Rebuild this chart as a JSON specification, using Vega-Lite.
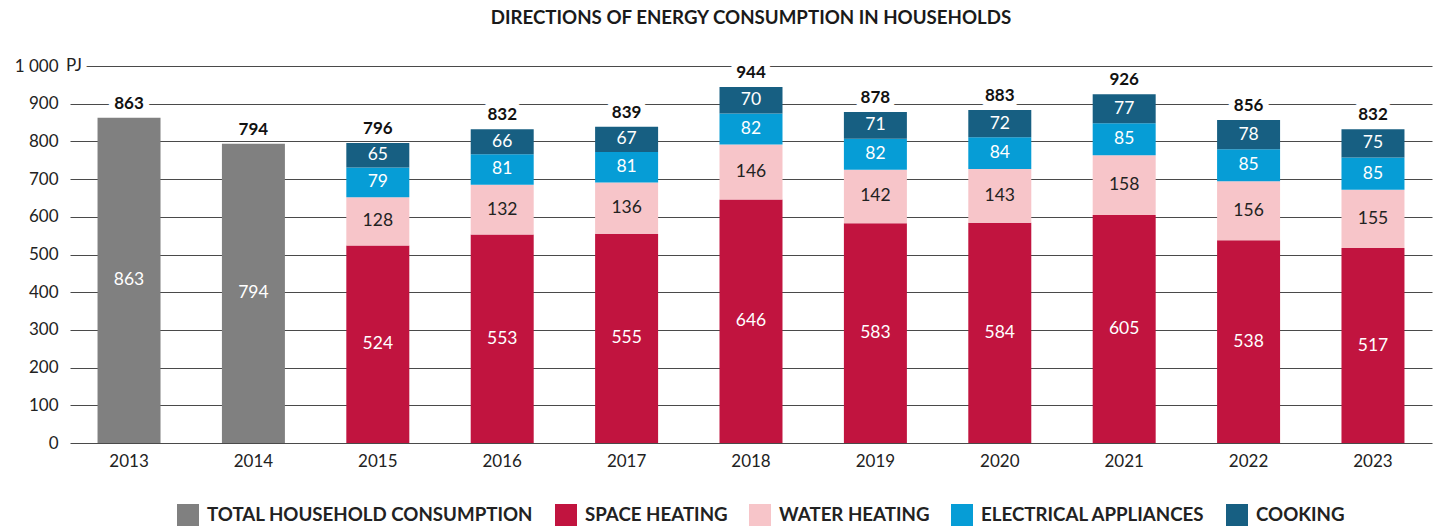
{
  "$schema": "https://vega.github.io/schema/vega-lite/v6.json",
  "width": 1362,
  "height": 377,
  "autosize": "none",
  "padding": {"left": 70, "top": 66, "right": 3, "bottom": 84},
  "background": "white",
  "config": {
    "font": "Lato",
    "view": {"stroke": null},
    "axisY": {"grid": true, "gridColor": "#4a4a4a", "gridWidth": 1, "domain": false, "ticks": false, "labelFont": "Lato", "labelFontSize": 17, "labelColor": "#222", "labelPadding": 12, "title": null},
    "axisX": {"grid": false, "domain": false, "ticks": false, "labelFont": "Lato", "labelFontSize": 17, "labelColor": "#222", "labelPadding": 10, "labelAngle": 0, "title": null}
  },
  "title": {"text": "DIRECTIONS OF ENERGY CONSUMPTION IN HOUSEHOLDS", "font": "Lato", "fontSize": 18.7, "fontWeight": "bold", "color": "#1a1a1a", "anchor": "middle", "frame": "group", "offset": 29},
  "datasets": {
    "seg": [
      {"year": "2013", "cat": "TOTAL HOUSEHOLD CONSUMPTION", "value": 863, "k": 0},
      {"year": "2014", "cat": "TOTAL HOUSEHOLD CONSUMPTION", "value": 794, "k": 0},
      {"year": "2015", "cat": "SPACE HEATING", "value": 524, "k": 1},
      {"year": "2015", "cat": "WATER HEATING", "value": 128, "k": 2},
      {"year": "2015", "cat": "ELECTRICAL APPLIANCES", "value": 79, "k": 3},
      {"year": "2015", "cat": "COOKING", "value": 65, "k": 4},
      {"year": "2016", "cat": "SPACE HEATING", "value": 553, "k": 1},
      {"year": "2016", "cat": "WATER HEATING", "value": 132, "k": 2},
      {"year": "2016", "cat": "ELECTRICAL APPLIANCES", "value": 81, "k": 3},
      {"year": "2016", "cat": "COOKING", "value": 66, "k": 4},
      {"year": "2017", "cat": "SPACE HEATING", "value": 555, "k": 1},
      {"year": "2017", "cat": "WATER HEATING", "value": 136, "k": 2},
      {"year": "2017", "cat": "ELECTRICAL APPLIANCES", "value": 81, "k": 3},
      {"year": "2017", "cat": "COOKING", "value": 67, "k": 4},
      {"year": "2018", "cat": "SPACE HEATING", "value": 646, "k": 1},
      {"year": "2018", "cat": "WATER HEATING", "value": 146, "k": 2},
      {"year": "2018", "cat": "ELECTRICAL APPLIANCES", "value": 82, "k": 3},
      {"year": "2018", "cat": "COOKING", "value": 70, "k": 4},
      {"year": "2019", "cat": "SPACE HEATING", "value": 583, "k": 1},
      {"year": "2019", "cat": "WATER HEATING", "value": 142, "k": 2},
      {"year": "2019", "cat": "ELECTRICAL APPLIANCES", "value": 82, "k": 3},
      {"year": "2019", "cat": "COOKING", "value": 71, "k": 4},
      {"year": "2020", "cat": "SPACE HEATING", "value": 584, "k": 1},
      {"year": "2020", "cat": "WATER HEATING", "value": 143, "k": 2},
      {"year": "2020", "cat": "ELECTRICAL APPLIANCES", "value": 84, "k": 3},
      {"year": "2020", "cat": "COOKING", "value": 72, "k": 4},
      {"year": "2021", "cat": "SPACE HEATING", "value": 605, "k": 1},
      {"year": "2021", "cat": "WATER HEATING", "value": 158, "k": 2},
      {"year": "2021", "cat": "ELECTRICAL APPLIANCES", "value": 85, "k": 3},
      {"year": "2021", "cat": "COOKING", "value": 77, "k": 4},
      {"year": "2022", "cat": "SPACE HEATING", "value": 538, "k": 1},
      {"year": "2022", "cat": "WATER HEATING", "value": 156, "k": 2},
      {"year": "2022", "cat": "ELECTRICAL APPLIANCES", "value": 85, "k": 3},
      {"year": "2022", "cat": "COOKING", "value": 78, "k": 4},
      {"year": "2023", "cat": "SPACE HEATING", "value": 517, "k": 1},
      {"year": "2023", "cat": "WATER HEATING", "value": 155, "k": 2},
      {"year": "2023", "cat": "ELECTRICAL APPLIANCES", "value": 85, "k": 3},
      {"year": "2023", "cat": "COOKING", "value": 75, "k": 4}
    ],
    "tot": [
      {"year": "2013", "total": 863},
      {"year": "2014", "total": 794},
      {"year": "2015", "total": 796},
      {"year": "2016", "total": 832},
      {"year": "2017", "total": 839},
      {"year": "2018", "total": 944},
      {"year": "2019", "total": 878},
      {"year": "2020", "total": 883},
      {"year": "2021", "total": 926},
      {"year": "2022", "total": 856},
      {"year": "2023", "total": 832}
    ],
    "unit": [{"year": "2013", "v": 1000, "label": "PJ"}]
  },
  "encoding": {
    "x": {"field": "year", "type": "ordinal", "scale": {"paddingInner": 0.4936, "paddingOuter": 0.2213}}
  },
  "layer": [
    {
      "data": {"name": "tot"},
      "mark": {"type": "text", "fontSize": 17, "fontWeight": "bold", "baseline": "bottom", "dy": -5, "fill": "white", "stroke": "white", "strokeWidth": 12, "strokeJoin": "round"},
      "encoding": {
        "y": {"field": "total", "type": "quantitative", "scale": {"domain": [0, 1000], "nice": false}, "axis": {"values": [0, 100, 200, 300, 400, 500, 600, 700, 800, 900, 1000], "format": "d", "labelExpr": "datum.value == 1000 ? '1 000' : datum.label"}},
        "text": {"field": "total", "type": "quantitative"}
      }
    },
    {
      "data": {"name": "unit"},
      "mark": {"type": "text", "fontSize": 17, "align": "left", "baseline": "middle", "dx": -63, "fill": "white", "stroke": "white", "strokeWidth": 12, "strokeJoin": "round"},
      "encoding": {
        "y": {"field": "v", "type": "quantitative", "axis": {"values": [0, 100, 200, 300, 400, 500, 600, 700, 800, 900, 1000], "format": "d", "labelExpr": "datum.value == 1000 ? '1 000' : datum.label"}},
        "text": {"field": "label", "type": "nominal"}
      }
    },
    {
      "data": {"name": "seg"},
      "mark": {"type": "bar"},
      "encoding": {
        "y": {"field": "value", "type": "quantitative", "stack": "zero", "axis": {"values": [0, 100, 200, 300, 400, 500, 600, 700, 800, 900, 1000], "format": "d", "labelExpr": "datum.value == 1000 ? '1 000' : datum.label"}},
        "color": {
          "field": "cat", "type": "nominal",
          "scale": {"domain": ["TOTAL HOUSEHOLD CONSUMPTION", "SPACE HEATING", "WATER HEATING", "ELECTRICAL APPLIANCES", "COOKING"], "range": ["#808080", "#C1143F", "#F7C5C9", "#069DD6", "#175F82"]},
          "legend": {"orient": "none", "legendX": 107, "legendY": 438, "direction": "horizontal", "title": null, "symbolType": "square", "symbolSize": 484, "symbolStrokeWidth": 0, "symbolOpacity": 1, "labelFont": "Lato", "labelFontSize": 18.7, "labelFontWeight": "bold", "labelColor": "#222", "columnPadding": 21, "labelOffset": 8, "labelLimit": 0}
        },
        "order": {"field": "k", "type": "quantitative"}
      }
    },
    {
      "data": {"name": "seg"},
      "transform": [
        {"window": [{"op": "sum", "field": "value", "as": "cum"}], "groupby": ["year"], "sort": [{"field": "k", "order": "ascending"}], "frame": [null, 0]},
        {"calculate": "datum.cum - datum.value / 2", "as": "mid"}
      ],
      "mark": {"type": "text", "fontSize": 17.5, "baseline": "middle"},
      "encoding": {
        "y": {"field": "mid", "type": "quantitative", "axis": {"values": [0, 100, 200, 300, 400, 500, 600, 700, 800, 900, 1000], "format": "d", "labelExpr": "datum.value == 1000 ? '1 000' : datum.label"}},
        "text": {"field": "value", "type": "quantitative"},
        "color": {"condition": {"test": "datum.cat === 'WATER HEATING'", "value": "#222"}, "value": "white"}
      }
    },
    {
      "data": {"name": "tot"},
      "mark": {"type": "text", "fontSize": 17, "fontWeight": "bold", "baseline": "bottom", "dy": -5, "color": "#111"},
      "encoding": {
        "y": {"field": "total", "type": "quantitative", "axis": {"values": [0, 100, 200, 300, 400, 500, 600, 700, 800, 900, 1000], "format": "d", "labelExpr": "datum.value == 1000 ? '1 000' : datum.label"}},
        "text": {"field": "total", "type": "quantitative"}
      }
    },
    {
      "data": {"name": "unit"},
      "mark": {"type": "text", "fontSize": 17, "align": "left", "baseline": "middle", "dx": -63, "color": "#222"},
      "encoding": {
        "y": {"field": "v", "type": "quantitative", "axis": {"values": [0, 100, 200, 300, 400, 500, 600, 700, 800, 900, 1000], "format": "d", "labelExpr": "datum.value == 1000 ? '1 000' : datum.label"}},
        "text": {"field": "label", "type": "nominal"}
      }
    }
  ]
}
